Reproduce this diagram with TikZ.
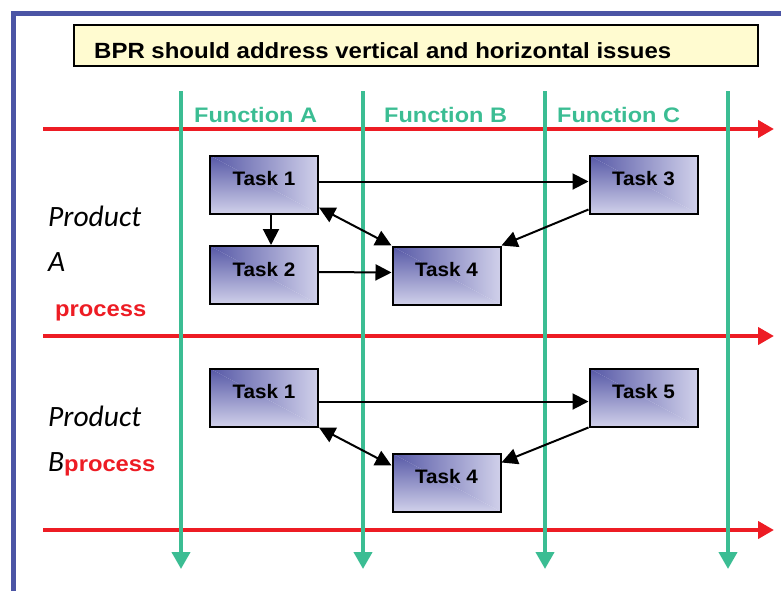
\documentclass[tikz,border=0pt]{standalone}
\usepackage{fontspec}
\setmainfont{Liberation Sans}
\newfontfamily\carlitofont{Carlito}
\usetikzlibrary{arrows.meta,shadings}
\definecolor{frameblue}{RGB}{75,85,165}
\definecolor{fgreen}{RGB}{59,189,147}
\definecolor{fred}{RGB}{237,28,36}
\definecolor{tyellow}{RGB}{255,251,208}
\definecolor{tdark}{RGB}{86,88,166}
\definecolor{tlight}{RGB}{208,208,234}
\newcommand\xs[2]{\scalebox{#1}[1]{#2}}
\begin{document}
\begin{tikzpicture}[x=1pt,y=-1pt,
  titlebox/.style={draw=black,line width=2pt,fill=tyellow,minimum width=684pt,minimum height=41pt,inner sep=0pt},
  titletext/.style={font=\bfseries\fontsize{22}{26}\selectfont,anchor=base west,inner sep=0pt},
  functext/.style={font=\bfseries\fontsize{21}{25}\selectfont,text=fgreen,anchor=west,inner sep=0pt},
  taskbox/.style={draw=black,line width=2pt,minimum width=108pt,minimum height=58pt,inner sep=0pt,
    path picture={
      \shade[left color=tdark,right color=tlight]
        (path picture bounding box.north west) -- (path picture bounding box.north east)
        -- (path picture bounding box.south east) -- cycle;
      \shade[top color=tdark,bottom color=tlight]
        (path picture bounding box.north west) -- (path picture bounding box.south west)
        -- (path picture bounding box.south east) -- cycle;
    }},
  tasktext/.style={font=\bfseries\fontsize{19.5}{23}\selectfont,inner sep=0pt},
  prodtext/.style={font=\carlitofont\itshape\fontsize{29.5}{34}\selectfont,anchor=base west,inner sep=0pt},
  proctext/.style={font=\bfseries\fontsize{22}{26}\selectfont,text=fred,anchor=base west,inner sep=0pt},
  redarrow/.style={draw=fred,line width=4pt,-{Triangle[length=16pt,width=17pt]}},
  greenarrow/.style={draw=fgreen,line width=4pt,-{Triangle[length=17pt,width=18pt]}},
  conn/.style={draw=black,line width=2pt,-{Triangle[length=16pt,width=16pt]}},
  dconn/.style={draw=black,line width=2pt,{Triangle[length=16pt,width=16pt]}-{Triangle[length=16pt,width=16pt]}}
]
\useasboundingbox (0,0) rectangle (781,590);
% blue frame
\coordinate (fbl) at (13,592);
\coordinate (ftl) at (13,13);
\coordinate (ftr) at (783,13);
\draw[frameblue,line width=5pt] (fbl) -- (ftl) -- (ftr);
% title
\node[titlebox] (title) at (416,45.5) {};
\node[titletext] (titlet) at (94,58) {\xs{1.09}{BPR should address vertical and horizontal issues}};
% red process arrows
\foreach \n/\y in {r1/129,r2/336,r3/530}{
  \coordinate (\n s) at (43,\y);
  \coordinate (\n e) at (774,\y);
  \draw[redarrow] (\n s) -- (\n e);
}
% green function arrows
\foreach \n/\x in {g1/181,g2/363,g3/545,g4/728}{
  \coordinate (\n s) at (\x,91);
  \coordinate (\n e) at (\x,569);
  \draw[greenarrow] (\n s) -- (\n e);
}
\node[functext] (fa) at (194,115) {\xs{1.12}{Function A}};
\node[functext] (fb) at (384,115) {\xs{1.12}{Function B}};
\node[functext] (fc) at (557,115) {\xs{1.12}{Function C}};
% product labels
\node[prodtext] (pa1) at (48,226) {Product};
\node[prodtext] (pa2) at (48,271) {A};
\node[proctext] (pa3) at (55,316) {\xs{1.08}{process}};
\node[prodtext] (pb1) at (48,426) {Product};
\node[prodtext] (pb2) at (48,471) {B\textcolor{fred}{\upshape\rmfamily\bfseries\fontsize{22}{26}\selectfont\xs{1.08}{process}}};
% product A tasks
\node[taskbox] (a1) at (264,184.5) {};
\node[taskbox] (a2) at (264,275) {};
\node[taskbox] (a4) at (446.5,275.5) {};
\node[taskbox] (a3) at (643.5,184.5) {};
\node[tasktext] (a1t) at ([yshift=5.5pt]a1.center) {\xs{1.06}{Task 1}};
\node[tasktext] (a2t) at ([yshift=5.5pt]a2.center) {\xs{1.06}{Task 2}};
\node[tasktext] (a4t) at ([yshift=5.5pt]a4.center) {\xs{1.06}{Task 4}};
\node[tasktext] (a3t) at ([yshift=5.5pt]a3.center) {\xs{1.06}{Task 3}};
% product B tasks
\node[taskbox] (b1) at (264,397.5) {};
\node[taskbox] (b5) at (643.5,397.5) {};
\node[taskbox] (b4) at (446.5,482.5) {};
\node[tasktext] (b1t) at ([yshift=5.5pt]b1.center) {\xs{1.06}{Task 1}};
\node[tasktext] (b5t) at ([yshift=5.5pt]b5.center) {\xs{1.06}{Task 5}};
\node[tasktext] (b4t) at ([yshift=5.5pt]b4.center) {\xs{1.06}{Task 4}};
% connectors A
\draw[conn] ([yshift=3pt]a1.east) -- ([yshift=3pt]a3.west);
\draw[conn] ([xshift=7pt]a1.south) -- ([xshift=7pt]a2.north);
\draw[conn] ([yshift=3pt]a2.east) -- ([yshift=3pt]a4.west);
\draw[dconn] ([yshift=7pt]a1.south east) -- (a4.north west);
\draw[conn] ([yshift=5pt]a3.south west) -- (a4.north east);
% connectors B
\draw[conn] ([yshift=-4pt]b1.east) -- ([yshift=-4pt]b5.west);
\draw[dconn] (b1.south east) -- ([yshift=-13pt]b4.north west);
\draw[conn] (b5.south west) -- ([yshift=-10pt]b4.north east);
\end{tikzpicture}
\end{document}
